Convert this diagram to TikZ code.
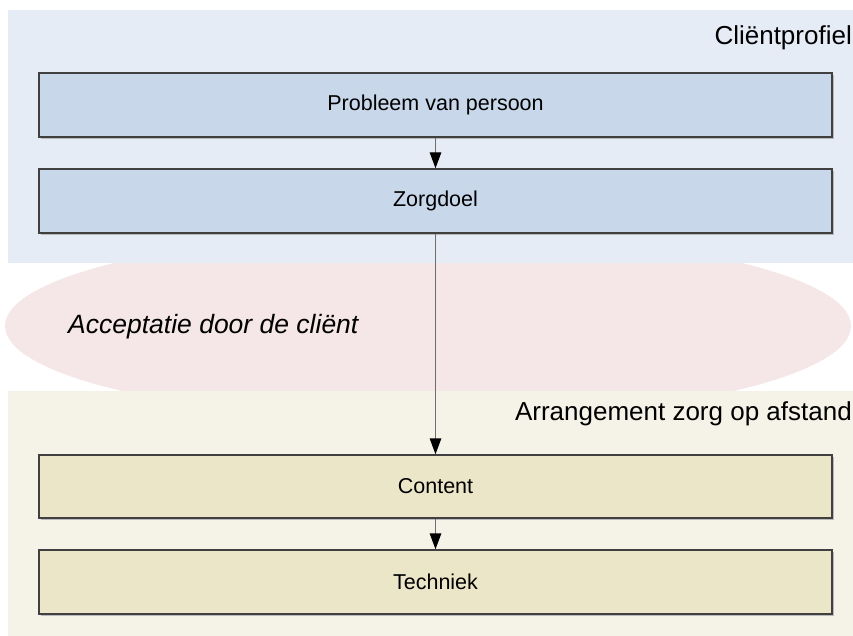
\documentclass[tikz,border=0pt]{standalone}
\usepackage{fontspec}
\setmainfont{Liberation Sans}
\usetikzlibrary{arrows.meta}
\definecolor{panelblue}{HTML}{E5ECF6}
\definecolor{boxblue}{HTML}{C8D7EA}
\definecolor{panelcream}{HTML}{F5F3E7}
\definecolor{boxcream}{HTML}{EBE6C8}
\definecolor{ellpink}{HTML}{F5E6E7}
\definecolor{edgegray}{HTML}{404040}
\definecolor{linegray}{HTML}{6E6E6E}
\tikzset{
  x=1pt, y=-1pt,
  stepbox/.style={rectangle, fill=#1, draw=edgegray, line width=1.4pt,
    minimum width=793pt, minimum height=63pt, inner sep=0pt,
    font=\fontsize{21.5}{24}\selectfont},
  boxshadow/.style={fill=gray!55, draw=none},
  header/.style={anchor=east, inner sep=0pt, font=\fontsize{26}{30}\selectfont},
  flow/.style={draw=linegray, line width=1.4pt,
    -{Triangle[length=16pt,width=11.5pt,color=black]}}
}
\begin{document}
\begin{tikzpicture}
\useasboundingbox (0,0) rectangle (853,636);
\fill[white] (0,0) rectangle (853,636);
% acceptance zone behind both panels
\fill[ellpink] (428,326) ellipse [x radius=423, y radius=94];
\node[anchor=west, inner sep=0pt, font=\fontsize{26.5}{30}\selectfont\itshape]
  (accept) at (68,327) {Acceptatie door de cliënt};
% client profile panel
\fill[panelblue] (8,10) rectangle (853,263);
\node[header] (profiel) at (852,38) {Cliëntprofiel};
% remote care arrangement panel
\fill[panelcream] (8,391) rectangle (853,636);
\node[header] (arrangement) at (852,414) {Arrangement zorg op afstand};
% shadows
\fill[boxshadow] (41,75) rectangle (834,139);
\fill[boxshadow] (41,171) rectangle (834,235);
\fill[boxshadow] (41,457) rectangle (834,520);
\fill[boxshadow] (41,552) rectangle (834,616);
% boxes
\node[stepbox=boxblue, minimum height=64pt] (probleem) at (435.5,105) {Probleem van persoon};
\node[stepbox=boxblue, minimum height=64pt] (zorgdoel) at (435.5,201) {Zorgdoel};
\node[stepbox=boxcream, minimum height=63pt] (content) at (435.5,486.5) {Content};
\node[stepbox=boxcream, minimum height=64pt] (techniek) at (435.5,582) {Techniek};
% connectors
\draw[flow] (probleem) -- (zorgdoel);
\draw[flow] (zorgdoel) -- (content);
\draw[flow] (content) -- (techniek);
\end{tikzpicture}
\end{document}
